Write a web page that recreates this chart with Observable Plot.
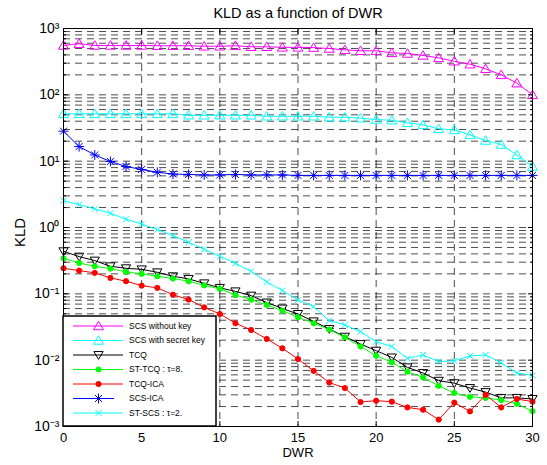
<!DOCTYPE html>
<html>
<head>
<meta charset="utf-8">
<script src="https://cdn.jsdelivr.net/npm/d3@7"></script>
<script src="https://cdn.jsdelivr.net/npm/@observablehq/plot@0.6"></script>
<style>
  html, body { margin: 0; padding: 0; background: #fff; }
  #chart svg { display: block; font-family: "Liberation Sans", Arial, sans-serif; }
</style>
</head>
<body>
<div id="chart"></div>
<script>
// ---- data ----
const dwr = [0,1,2,3,4,5,6,7,8,9,10,11,12,13,14,15,16,17,18,19,20,21,22,23,24,25,26,27,28,29,30];

const scsWithoutKey = [555,590,555,555,555,555,550,550,550,540,540,550,530,530,520,520,515,499,477,461,461,430,420,392,361,321,290,247,200,150,100];
const scsWithSecretKey = [51.7,51.7,51.7,51.7,51.7,51.7,51.7,51.7,49.2,49.2,49.2,49.2,49.2,47.5,47.5,47.5,47.5,46,46,44.4,42.4,41.4,37.8,35.3,30.7,29.6,24.9,20.5,17.8,12.4,8.3];
const tcq = [0.438,0.364,0.317,0.26,0.243,0.234,0.211,0.184,0.168,0.144,0.123,0.109,0.094,0.074,0.060,0.0497,0.0385,0.0295,0.0226,0.0175,0.0139,0.011,0.0078,0.0064,0.0049,0.0045,0.0038,0.0033,0.0027,0.0027,0.0026];
const stTcq = [0.344,0.292,0.26,0.24,0.214,0.20,0.184,0.17,0.155,0.134,0.119,0.096,0.0817,0.068,0.0558,0.0443,0.036,0.0289,0.0221,0.0161,0.0117,0.0093,0.0067,0.0055,0.0041,0.0032,0.0028,0.0027,0.0025,0.0022,0.0017];
const tcqIca = [0.243,0.224,0.207,0.174,0.155,0.133,0.123,0.097,0.082,0.0625,0.0497,0.036,0.0285,0.0209,0.0151,0.0104,0.0069,0.0046,0.0038,0.00234,0.00245,0.00237,0.00194,0.00179,0.00127,0.00229,0.00169,0.0030,0.00194,0.0026,0.00237];
const scsIca = [28.3,16.6,12.4,9.9,8.3,7.5,6.8,6.4,6.3,6.2,6.2,6.3,6.2,6.2,6.2,6.1,6.1,6.1,6.1,6.1,6.1,6.1,6.1,6.1,6.1,6.1,6.1,6.1,6.1,6.1,6.1];
const stScs = [2.55,2.21,1.91,1.64,1.33,1.13,0.93,0.755,0.598,0.47,0.368,0.288,0.218,0.151,0.112,0.081,0.064,0.0394,0.034,0.0269,0.019,0.0161,0.0106,0.012,0.0095,0.0098,0.0116,0.012,0.0091,0.0064,0.0059];

const seriesNames = ["SCS without key","SCS with secret key","TCQ","ST-TCQ : \u03c4=8.","TCQ-ICA","SCS-ICA","ST-SCS : \u03c4=2."];
const seriesValues = [scsWithoutKey, scsWithSecretKey, tcq, stTcq, tcqIca, scsIca, stScs];

const xTicks = [0,5,10,15,20,25,30];
const xGrid = [5,10,15,20,25];
const yMajor = [1e-3,1e-2,1e-1,1e0,1e1,1e2,1e3];
const yMinor = [];
for (let e = -3; e < 3; e++) for (let k = 2; k <= 9; k++) yMinor.push(k * Math.pow(10, e));
const yTickLabels = ["10\u207b\u00b3","10\u207b\u00b2","10\u207b\u00b9","10\u2070","10\u00b9","10\u00b2","10\u00b3"];

// ---- custom MATLAB-like marker shapes ----
const rOf = size => Math.sqrt(size / Math.PI);
const triUp = { draw(c, s) { const r = rOf(s); c.moveTo(0, -0.95*r); c.lineTo(r, 0.75*r); c.lineTo(-r, 0.75*r); c.closePath(); } };
const triDown = { draw(c, s) { const r = rOf(s); c.moveTo(0, 0.95*r); c.lineTo(r, -0.75*r); c.lineTo(-r, -0.75*r); c.closePath(); } };
const star8 = { draw(c, s) { const r = rOf(s), d = r*0.7;
  c.moveTo(0,-r); c.lineTo(0,r); c.moveTo(-r,0); c.lineTo(r,0);
  c.moveTo(-d,-d); c.lineTo(d,d); c.moveTo(-d,d); c.lineTo(d,-d); } };
const cross = { draw(c, s) { const r = rOf(s);
  c.moveTo(-r,-r); c.lineTo(r,r); c.moveTo(-r,r); c.lineTo(r,-r); } };
const disc = { draw(c, s) { const r = rOf(s); c.moveTo(r,0); c.arc(0,0,r,0,2*Math.PI); c.closePath(); } };

const styles = [
  {color:"#ff00ff", symbol:triUp,  r:5,   fill:"none"},
  {color:"#00ffff", symbol:triUp,  r:5,   fill:"none"},
  {color:"#000000", symbol:triDown,r:4.6, fill:"none"},
  {color:"#00ff00", symbol:disc,   r:2.6, fill:"#00ff00"},
  {color:"#ff0000", symbol:disc,   r:2.6, fill:"#ff0000"},
  {color:"#0000ff", symbol:star8,  r:5,   fill:"none"},
  {color:"#00ffff", symbol:cross,  r:3,   fill:"none"}
];

const seriesMarks = [];
seriesValues.forEach((vals, si) => {
  const rows = dwr.map((x, i) => ({dwr: x, kld: vals[i], series: seriesNames[si]}));
  const st = styles[si];
  seriesMarks.push(Plot.line(rows, {x: "dwr", y: "kld", stroke: st.color, strokeWidth: 1}));
  seriesMarks.push(Plot.dot(rows, {x: "dwr", y: "kld", r: st.r, symbol: st.symbol, stroke: st.color, fill: st.fill, strokeWidth: 1}));
});

const blank = () => "";
const plot = Plot.plot({
  width: 547,
  height: 465,
  marginLeft: 63,
  marginRight: 15,
  marginTop: 28,
  marginBottom: 39,
  style: {fontFamily: "'Liberation Sans', Arial, sans-serif", background: "#fff", color: "#000"},
  x: {domain: [0, 30], label: null},
  y: {type: "log", domain: [1e-3, 1e3], label: null},
  marks: [
    Plot.ruleY(yMinor, {stroke: "#000", strokeWidth: 0.7, strokeDasharray: "7,5"}),
    Plot.ruleY(yMajor.slice(1, -1), {stroke: "#000", strokeWidth: 0.7, strokeDasharray: "7,5"}),
    Plot.ruleX(xGrid, {stroke: "#000", strokeWidth: 0.7, strokeDasharray: "7,5"}),
    ...seriesMarks,
    Plot.frame({stroke: "#000", strokeWidth: 1}),
    // tick labels
    Plot.axisX({anchor: "bottom", ticks: xTicks, tickSize: 0, tickPadding: 6, fontSize: 13, label: null}),
    Plot.axisY({anchor: "left", ticks: yMajor, tickSize: 0, tickPadding: 4, fontSize: 14, label: null,
                tickFormat: d => yTickLabels[yMajor.indexOf(d)] ?? ""}),
    // inward ticks on all four sides
    Plot.axisX({anchor: "bottom", ticks: xTicks, tickSize: -5, tickFormat: blank, label: null}),
    Plot.axisX({anchor: "top", ticks: xTicks, tickSize: -5, tickFormat: blank, label: null}),
    Plot.axisY({anchor: "left", ticks: yMajor, tickSize: -5, tickFormat: blank, label: null}),
    Plot.axisY({anchor: "right", ticks: yMajor, tickSize: -5, tickFormat: blank, label: null}),
    Plot.axisY({anchor: "left", ticks: yMinor, tickSize: -3, tickFormat: blank, label: null}),
    Plot.axisY({anchor: "right", ticks: yMinor, tickSize: -3, tickFormat: blank, label: null}),
    // title & axis labels
    Plot.text(["KLD as a function of DWR"], {frameAnchor: "top", lineAnchor: "middle", textAnchor: "middle", dy: -15, fontSize: 14.5, fill: "#000"}),
    Plot.text(["DWR"], {frameAnchor: "bottom", lineAnchor: "middle", textAnchor: "middle", dy: 26.5, fontSize: 13, fill: "#000"}),
    Plot.text(["KLD"], {frameAnchor: "left", lineAnchor: "middle", textAnchor: "middle", dx: -43, dy: 5, rotate: -90, fontSize: 15, fill: "#000"})
  ]
});

document.getElementById("chart").appendChild(plot);

// ---- legend (drawn into the same SVG) ----
const svg = d3.select(plot);
const lg = svg.append("g").attr("class", "legend");
const lx = 63, ly = 316, lw = 153, lh = 110;
lg.append("rect").attr("x", lx).attr("y", ly).attr("width", lw).attr("height", lh)
  .attr("fill", "#fff").attr("stroke", "#000").attr("stroke-width", 1.5);
seriesNames.forEach((name, i) => {
  const st = styles[i];
  const cy = ly + 10 + i * 14.5;
  const x2 = name === "SCS-ICA" ? lx + 51 : lx + 60;
  lg.append("line").attr("x1", lx + 10).attr("x2", x2).attr("y1", cy).attr("y2", cy)
    .attr("stroke", st.color).attr("stroke-width", 1);
  lg.append("path").attr("d", d3.symbol(st.symbol, st.r * st.r * Math.PI)())
    .attr("transform", `translate(${lx + 35.5},${cy})`)
    .attr("stroke", st.color).attr("fill", st.fill).attr("stroke-width", 1);
  lg.append("text").attr("x", lx + 66).attr("y", cy).attr("dy", "0.35em")
    .attr("text-anchor", "start")
    .style("font-size", "8.5px").style("font-family", "'Liberation Sans', Arial, sans-serif")
    .attr("fill", "#000").text(name);
});
</script>
</body>
</html>
